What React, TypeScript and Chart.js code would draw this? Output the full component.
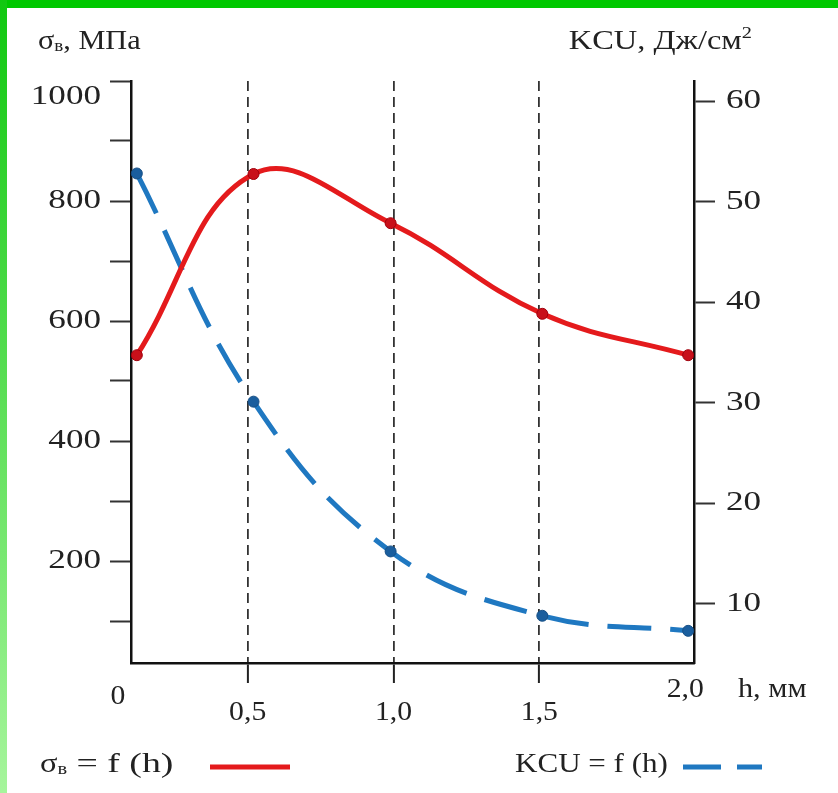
import React, { useEffect, useRef } from "react";
import { Chart, registerables } from "chart.js";

Chart.register(...registerables);

// ---- data ----
const hValues = [0.12, 0.52, 0.99, 1.51, 2.01];
const sigmaValues = [543, 845, 763, 612, 543];
const kcuValues = [52.8, 30.1, 15.2, 8.8, 7.3];

const leftTicks = [100, 200, 300, 400, 500, 600, 700, 800, 900, 1000];
const leftTickLabels = ["", "200", "", "400", "", "600", "", "800", "", "1000"];
const rightTicks = [10, 20, 30, 40, 50, 60];
const rightTickLabels = ["10", "20", "30", "40", "50", "60"];
const xGridTicks = [0.5, 1.0, 1.5];
const xTickValues = [0, 0.5, 1.0, 1.5, 2.0];
const xTickLabels = ["0", "0,5", "1,0", "1,5", "2,0"];

const leftTitle = ["σ", "в", ", МПа"];
const rightTitle = ["KCU, Дж/см", "2"];
const xTitle = "h, мм";
const legendSigma = ["σ", "в", " = f (h)"];
const legendKcu = "KCU = f (h)";

const W = 838;
const H = 793;
const FONT = '"Liberation Serif", "Times New Roman", serif';
const TEXT = "#222";

type Seg = { t: string; size: number; dy: number; sx?: number };

function drawSegs(
  ctx: CanvasRenderingContext2D,
  segs: Seg[],
  x: number,
  y: number,
  align: "left" | "right" | "center",
  SX = 1.17
) {
  ctx.save();
  ctx.textBaseline = "middle";
  ctx.textAlign = "left";
  ctx.fillStyle = TEXT;
  let total = 0;
  for (const s of segs) {
    ctx.font = `${s.size}px ${FONT}`;
    total += ctx.measureText(s.t).width * (s.sx ?? SX);
  }
  let cx = align === "left" ? x : align === "right" ? x - total : x - total / 2;
  for (const s of segs) {
    const sx = s.sx ?? SX;
    ctx.font = `${s.size}px ${FONT}`;
    const w = ctx.measureText(s.t).width * sx;
    ctx.save();
    ctx.translate(cx, y + s.dy);
    ctx.scale(sx, 1);
    ctx.fillText(s.t, 0, 0);
    ctx.restore();
    cx += w;
  }
  ctx.restore();
  return total;
}

const textPlugin = {
  id: "textPlugin",
  afterDraw(chart: any) {
    const ctx: CanvasRenderingContext2D = chart.ctx;
    const area = chart.chartArea;
    const ys = chart.scales.y;
    const yr = chart.scales.y1;
    const xs = chart.scales.x;

    // left tick labels
    leftTicks.forEach((v, i) => {
      const lab = leftTickLabels[i];
      if (!lab) return;
      const py = Math.max(ys.getPixelForValue(v), area.top + 16);
      drawSegs(ctx, [{ t: lab, size: 27, dy: 0 }], area.left - 30, py, "right", 1.3);
    });
    // right tick labels
    rightTicks.forEach((v, i) => {
      const py = yr.getPixelForValue(v);
      drawSegs(ctx, [{ t: rightTickLabels[i], size: 27, dy: 0 }], area.right + 32, py, "left", 1.3);
    });
    // x labels
    const dys = [34, 50, 50, 50, 27];
    xTickValues.forEach((v, i) => {
      const px = i === 0 ? area.left - 13 : xs.getPixelForValue(v);
      drawSegs(ctx, [{ t: xTickLabels[i], size: 27, dy: 0 }], px, area.bottom + dys[i], "center", 1.1);
    });
    drawSegs(ctx, [{ t: xTitle, size: 27, dy: 0 }], area.right + 44, area.bottom + 27, "left", 1.12);

    // axis titles
    drawSegs(
      ctx,
      [
        { t: leftTitle[0], size: 27, dy: 0 },
        { t: leftTitle[1], size: 17, dy: 5 },
        { t: leftTitle[2], size: 27, dy: 0 },
      ],
      38,
      42,
      "left",
      1.12
    );
    drawSegs(
      ctx,
      [
        { t: rightTitle[0], size: 27, dy: 0 },
        { t: rightTitle[1], size: 17, dy: -8 },
      ],
      752,
      42,
      "right",
      1.2
    );

    // legend
    const ds0 = chart.data.datasets[0];
    const ds1 = chart.data.datasets[1];
    const ly = 765;
    drawSegs(
      ctx,
      [
        { t: legendSigma[0], size: 27, dy: 0, sx: 1.2 },
        { t: legendSigma[1], size: 17, dy: 5, sx: 1.2 },
        { t: legendSigma[2], size: 27, dy: 0, sx: 1.4 },
      ],
      40,
      ly,
      "left"
    );
    ctx.save();
    ctx.strokeStyle = ds0.borderColor;
    ctx.lineWidth = ds0.borderWidth;
    ctx.beginPath();
    ctx.moveTo(210, ly + 2);
    ctx.lineTo(290, ly + 2);
    ctx.stroke();
    ctx.restore();

    drawSegs(ctx, [{ t: legendKcu, size: 27, dy: 0 }], 515, ly, "left", 1.15);
    ctx.save();
    ctx.strokeStyle = ds1.borderColor;
    ctx.lineWidth = ds1.borderWidth;
    ctx.setLineDash([38, 16]);
    ctx.beginPath();
    ctx.moveTo(683, ly + 2);
    ctx.lineTo(762, ly + 2);
    ctx.stroke();
    ctx.restore();
  },
};

export default function App() {
  const ref = useRef<HTMLCanvasElement | null>(null);

  useEffect(() => {
    if (!ref.current) return;
    const chart = new Chart(ref.current, {
      type: "line",
      data: {
        datasets: [
          {
            label: "σв = f (h)",
            data: hValues.map((h, i) => ({ x: h, y: sigmaValues[i] })),
            borderColor: "#e41a1c",
            borderWidth: 5,
            tension: 0.4,
            pointRadius: 5.5,
            pointBackgroundColor: "#c8101a",
            pointBorderColor: "#a0000c",
            pointBorderWidth: 1,
            yAxisID: "y",
            clip: 10,
          } as any,
          {
            label: "KCU = f (h)",
            data: hValues.map((h, i) => ({ x: h, y: kcuValues[i] })),
            borderColor: "#1f78c1",
            borderWidth: 5,
            borderDash: [44, 19],
            tension: 0.4,
            pointRadius: 5.5,
            pointBackgroundColor: "#1a5e9e",
            pointBorderColor: "#174f85",
            pointBorderWidth: 1,
            yAxisID: "y1",
            clip: 10,
          } as any,
        ],
      },
      options: {
        animation: false,
        responsive: false,
        maintainAspectRatio: false,
        layout: { padding: { top: 81, left: 0, right: 0, bottom: 0 } },
        plugins: { legend: { display: false }, tooltip: { enabled: false } },
        scales: {
          x: {
            type: "linear",
            position: "bottom",
            min: 0.1,
            max: 2.03,
            afterBuildTicks: (s: any) => {
              s.ticks = xGridTicks.map((v) => ({ value: v }));
            },
            afterFit: (s: any) => {
              s.height = H - 663;
            },
            ticks: { display: false },
            grid: {
              color: "#333",
              lineWidth: 1.8,
              drawTicks: true,
              tickLength: 20,
              tickColor: "#222",
              tickWidth: 2,
            },
            border: { display: true, color: "#111", width: 2.5, dash: [10, 6] },
          },
          y: {
            type: "linear",
            position: "left",
            min: 30,
            max: 1000,
            afterBuildTicks: (s: any) => {
              s.ticks = leftTicks.map((v) => ({ value: v }));
            },
            afterFit: (s: any) => {
              s.width = 131;
            },
            ticks: { display: false },
            grid: {
              drawOnChartArea: false,
              drawTicks: true,
              tickLength: 21,
              tickColor: "#333",
              tickWidth: 2,
              color: "#333",
            },
            border: { display: true, color: "#111", width: 2.5 },
          },
          y1: {
            type: "linear",
            position: "right",
            min: 4.1,
            max: 62,
            afterBuildTicks: (s: any) => {
              s.ticks = rightTicks.map((v) => ({ value: v }));
            },
            afterFit: (s: any) => {
              s.width = W - 694;
            },
            ticks: { display: false },
            grid: {
              drawOnChartArea: false,
              drawTicks: true,
              tickLength: 21,
              tickColor: "#333",
              tickWidth: 2,
              color: "#333",
            },
            border: { display: true, color: "#111", width: 2.5 },
          },
        },
      },
      plugins: [textPlugin],
    });
    return () => chart.destroy();
  }, []);

  return (
    <div style={{ position: "absolute", left: 0, top: 0, width: W, height: H, background: "#fff", overflow: "hidden" }}>
      <div style={{ position: "absolute", left: 0, top: 0, width: W, height: 8, background: "#00c800" }} />
      <div
        style={{
          position: "absolute",
          left: 0,
          top: 0,
          width: 7,
          height: H,
          background: "linear-gradient(#10c810, #a6f59c)",
        }}
      />
      <canvas ref={ref} width={W} height={H} style={{ position: "absolute", left: 0, top: 0, width: W, height: H }} />
    </div>
  );
}
